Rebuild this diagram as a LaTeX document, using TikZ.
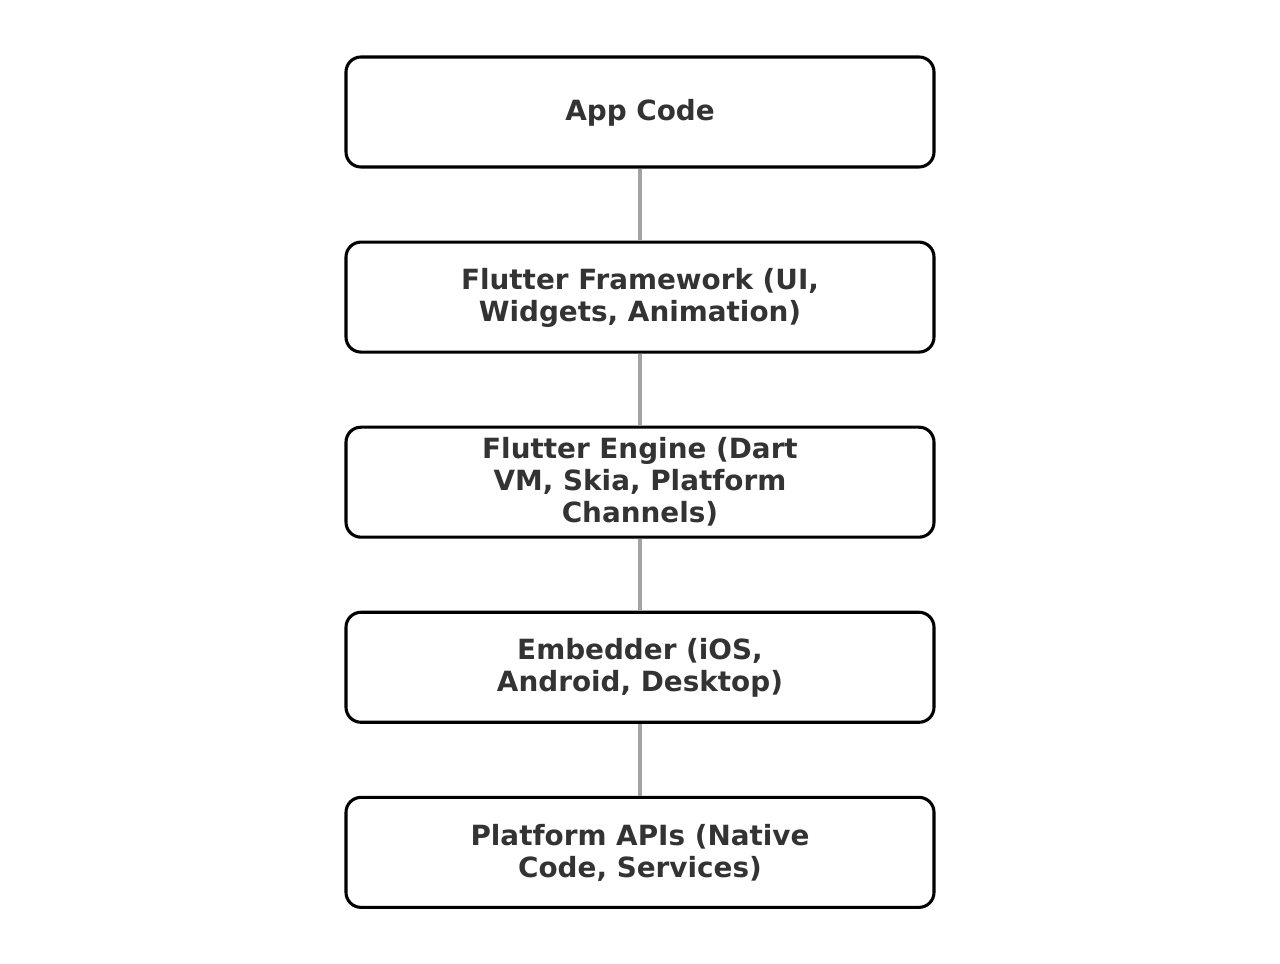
\documentclass[tikz,border=0pt]{standalone}
\usepackage{xcolor}
\usepackage{fontspec}
\setmainfont{DejaVu Sans}
\usepackage{tikz}
\usetikzlibrary{positioning}

\definecolor{labelgray}{HTML}{333333}
\definecolor{linkgray}{HTML}{A3A3A3}

% label lines, nudged a little down inside the box
\newcommand{\layertext}[1]{\raisebox{-1.6pt}[\height][\depth]{\begin{tabular}{@{}c@{}}#1\end{tabular}}}

\tikzset{
    layer/.style={draw=black, line width=2.2pt, rounded corners=0.375cm, fill=white,
        minimum width=14.7cm, minimum height=2.75cm,
        text=labelgray, font=\fontsize{19.8}{22.8}\selectfont\bfseries},
    layerlink/.style={draw=linkgray, line width=2.2pt}
}

\begin{document}
\begin{tikzpicture}[node distance=1.8cm]
\useasboundingbox (0,0) rectangle (32,24.1);
% the stack, top to bottom
\node[layer] (app) at (16,21.3) {\layertext{App Code}};
\node[layer, below=of app] (framework) {\layertext{Flutter Framework (UI,\\Widgets, Animation)}};
\node[layer, below=of framework] (engine) {\layertext{Flutter Engine (Dart\\VM, Skia, Platform\\Channels)}};
\node[layer, below=of engine] (embedder) {\layertext{Embedder (iOS,\\Android, Desktop)}};
\node[layer, below=of embedder] (platform) {\layertext{Platform APIs (Native\\Code, Services)}};
% links between layers
\draw[layerlink] (app.south) -- (framework.north);
\draw[layerlink] (framework.south) -- (engine.north);
\draw[layerlink] (engine.south) -- (embedder.north);
\draw[layerlink] (embedder.south) -- (platform.north);
\end{tikzpicture}
\end{document}
